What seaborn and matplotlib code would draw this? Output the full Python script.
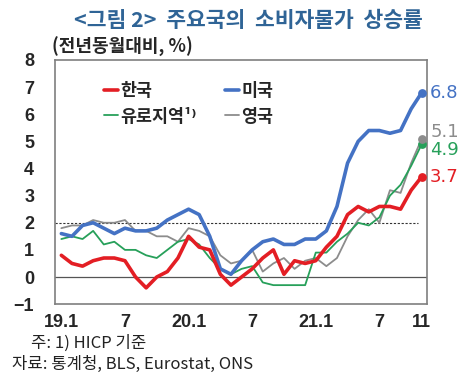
import numpy as np
import pandas as pd
import seaborn as sns
import matplotlib.pyplot as plt

# 월별 소비자물가 상승률 (19.1 ~ 21.11, 전년동월대비 %)
months = list(range(35))
tick_pos = [0, 6, 12, 18, 24, 30, 34]
tick_labels = ["19.1", "7", "20.1", "7", "21.1", "7", "11"]

korea = [0.8, 0.5, 0.4, 0.6, 0.7, 0.7, 0.6, 0.0, -0.4, 0.0, 0.2, 0.7,
         1.5, 1.1, 1.0, 0.1, -0.3, 0.0, 0.3, 0.7, 1.0, 0.1, 0.6, 0.5,
         0.6, 1.1, 1.5, 2.3, 2.6, 2.4, 2.6, 2.6, 2.5, 3.2, 3.7]
usa = [1.6, 1.5, 1.9, 2.0, 1.8, 1.6, 1.8, 1.7, 1.7, 1.8, 2.1, 2.3,
       2.5, 2.3, 1.5, 0.3, 0.1, 0.6, 1.0, 1.3, 1.4, 1.2, 1.2, 1.4,
       1.4, 1.7, 2.6, 4.2, 5.0, 5.4, 5.4, 5.3, 5.4, 6.2, 6.8]
euro = [1.4, 1.5, 1.4, 1.7, 1.2, 1.3, 1.0, 1.0, 0.8, 0.7, 1.0, 1.3,
        1.4, 1.2, 0.7, 0.3, 0.1, 0.3, 0.4, -0.2, -0.3, -0.3, -0.3, -0.3,
        0.9, 0.9, 1.3, 1.6, 2.0, 1.9, 2.2, 3.0, 3.4, 4.1, 4.9]
uk = [1.8, 1.9, 1.9, 2.1, 2.0, 2.0, 2.1, 1.7, 1.7, 1.5, 1.5, 1.3,
      1.8, 1.7, 1.5, 0.8, 0.5, 0.6, 1.0, 0.2, 0.5, 0.7, 0.3, 0.6,
      0.7, 0.4, 0.7, 1.5, 2.1, 2.5, 2.0, 3.2, 3.1, 4.2, 5.1]

sns.set_style("white")
plt.rcParams['font.family'] = ['Noto Sans CJK KR', 'DejaVu Sans']

fig = plt.figure(figsize=(4.74, 3.75), dpi=100)
ax = fig.add_axes([0.116, 0.189, 0.785, 0.651])

series = [
    ("한국", korea, "#E31E24", 2.6),
    ("미국", usa, "#4472C4", 2.6),
    ("유로지역¹⁾", euro, "#27A05A", 1.3),
    ("영국", uk, "#8C8C8C", 1.3),
]

ax.axhline(0, color="#555555", lw=0.9, zorder=1)
ax.axhline(2, color="#333333", lw=0.8, ls=(0, (2, 1.5)), xmax=0.975, zorder=1)

# 그리는 순서: 얇은 선 먼저
for name, vals, col, lw in [series[3], series[2], series[1], series[0]]:
    df = pd.DataFrame({"month": months, "value": vals})
    sns.lineplot(data=df, x="month", y="value", color=col, lw=lw, ax=ax,
                 label=name, zorder=3)

# 끝점 표시
end_offsets = {"한국": 0, "미국": 0, "유로지역¹⁾": -4, "영국": 5}
for name, vals, col, lw in series:
    ax.scatter(months[-1], vals[-1], s=28, color=col, zorder=4, clip_on=False)
    ax.annotate(f"{vals[-1]:.1f}", (months[-1], vals[-1]),
                xytext=(6, end_offsets[name]), textcoords="offset points",
                va="center", ha="left", color=col, fontsize=13,
                family="DejaVu Sans", annotation_clip=False)

ax.set_xlim(-0.6, 34.5)
ax.set_ylim(-1, 8)
ax.set_yticks(range(-1, 9))
ax.set_yticklabels(["\u22121"] + [str(v) for v in range(0, 9)])
ax.set_xticks(tick_pos)
ax.set_xticklabels(tick_labels)
ax.tick_params(axis="y", length=0, pad=15, labelsize=13)
ax.tick_params(axis="x", length=0, pad=7, labelsize=13)
for lab in ax.get_xticklabels() + ax.get_yticklabels():
    lab.set_fontweight("bold")
    lab.set_family("Liberation Sans")
ax.set_xlabel("")
ax.set_ylabel("")
for sp in ax.spines.values():
    sp.set_color("#7F7F7F")
    sp.set_linewidth(1.2)

# 범례 (열 단위로 채워지므로 순서 조정)
handles, labels = ax.get_legend_handles_labels()
order = [labels.index(n) for n in ["한국", "유로지역¹⁾", "미국", "영국"]]
leg = ax.legend([handles[i] for i in order], [labels[i] for i in order],
                ncol=2, loc="upper left", bbox_to_anchor=(0.09, 0.975),
                frameon=False, handlelength=0.8, handletextpad=0.15,
                columnspacing=1.6, labelspacing=0.45,
                prop={"weight": "bold", "size": 12.5})

fig.text(0.525, 0.945, "<그림 2>  주요국의  소비자물가  상승률", ha="center",
         va="center", color="#2F6496", fontsize=15.5, fontweight="bold")
fig.text(0.11, 0.875, "(전년동월대비, %)", ha="left", va="center",
         fontsize=13, fontweight="bold")
fig.text(0.065, 0.085, "주: 1) HICP 기준", ha="left", va="center",
         fontsize=12, color="#222222")
fig.text(0.025, 0.028, "자료: 통계청, BLS, Eurostat, ONS", ha="left",
         va="center", fontsize=12, color="#222222")

fig.savefig("out.png", dpi=100)
